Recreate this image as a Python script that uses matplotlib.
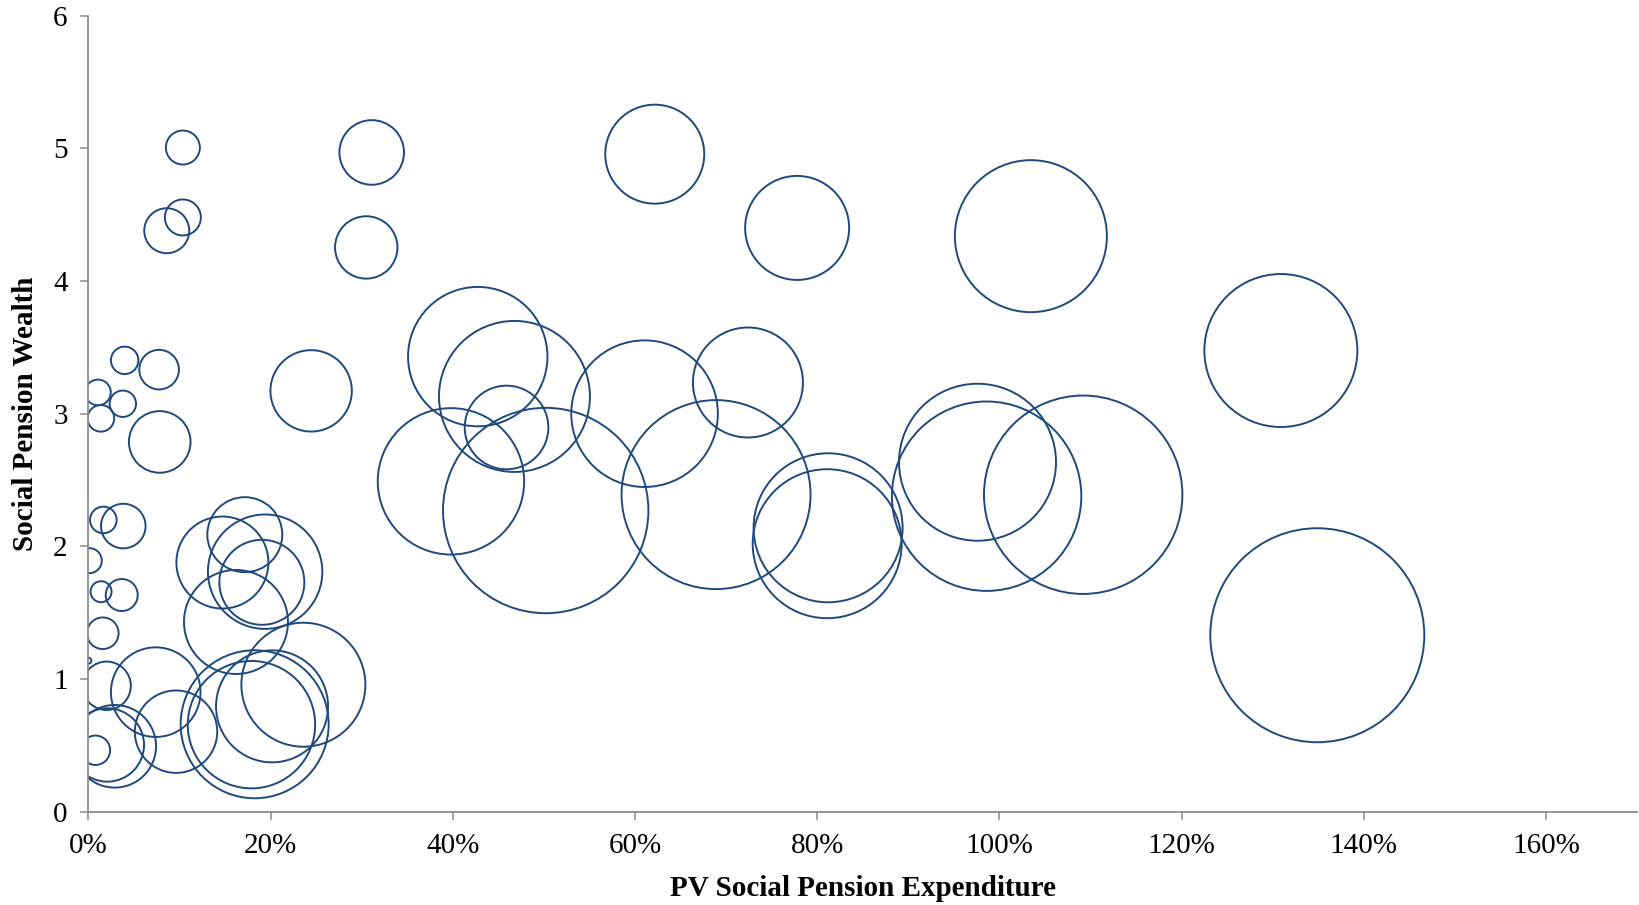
import matplotlib
matplotlib.use("Agg")
import matplotlib.pyplot as plt
from matplotlib.ticker import PercentFormatter, MultipleLocator

# PV social pension expenditure (share), social pension wealth, bubble size
expenditure = [0.1037, 0.1037, 0.0860, 0.311, 0.305, 0.6217, 0.778, 1.0346, 1.309, 1.349,
               0.0398, 0.0776, 0.0105, 0.0378, 0.0137, 0.0783, 0.2445, 0.4274, 0.4677, 0.459,
               0.398, 0.502, 0.6105, 0.724, 0.689, 0.812, 0.811, 0.976, 0.986, 1.092,
               0.0164, 0.0383, 0.001, 0.0139, 0.0366, 0.0158, 0.0, 0.020, 0.0739, 0.0077,
               0.0289, 0.0208, 0.0962, 0.1717, 0.1471, 0.194, 0.1904, 0.162, 0.1825, 0.179,
               0.2016, 0.236]
wealth = [5.006, 4.479, 4.379, 4.969, 4.253, 4.956, 4.40, 4.338, 3.476, 1.33,
          3.402, 3.332, 3.16, 3.075, 2.965, 2.787, 3.172, 3.43, 3.13, 2.896,
          2.49, 2.27, 3.0, 3.235, 2.39, 2.14, 2.02, 2.634, 2.378, 2.389,
          2.199, 2.153, 1.892, 1.658, 1.633, 1.345, 1.138, 0.949, 0.901, 0.463,
          0.493, 0.503, 0.603, 2.088, 1.878, 1.809, 1.729, 1.43, 0.659, 0.656,
          0.794, 0.957]
bubble = [2.89, 3.24, 5.06, 10.43, 9.73, 24.5, 27.04, 57.76, 58.52, 114.49,
          1.88, 3.92, 1.64, 1.74, 1.77, 9.49, 16.56, 48.58, 57.0, 17.47,
          53.58, 105.47, 53.73, 30.25, 89.3, 55.5, 55.5, 61.62, 89.68, 98.41,
          1.77, 4.97, 1.56, 1.10, 2.56, 2.50, 0.09, 5.86, 20.07, 2.16,
          17.06, 13.47, 16.97, 14.06, 21.16, 32.72, 18.06, 27.04, 54.76, 40.58,
          31.36, 38.44]

COLOR = "#1F497D"
AXIS_GREY = "#8C8C8C"

plt.rcParams["font.family"] = ["Liberation Serif", "DejaVu Serif"]

fig = plt.figure(figsize=(16.4, 9.05), dpi=100)
ax = fig.add_axes([0.0539, 0.1031, 0.9443, 0.8796])

# bubble area proportional to value
sizes = [b * 207.36 for b in bubble]
ax.scatter(expenditure, wealth, s=sizes, facecolors="none", edgecolors=COLOR,
           linewidths=1.4)

ax.set_xlim(0, 1.7)
ax.set_ylim(0, 6)
ax.xaxis.set_major_locator(MultipleLocator(0.2))
ax.xaxis.set_major_formatter(PercentFormatter(1.0, decimals=0))
ax.yaxis.set_major_locator(MultipleLocator(1))

for side in ["top", "right"]:
    ax.spines[side].set_visible(False)
for side in ["left", "bottom"]:
    ax.spines[side].set_color(AXIS_GREY)
    ax.spines[side].set_linewidth(1.3)

ax.tick_params(axis="both", direction="out", length=6, width=1.1, color=AXIS_GREY,
               labelsize=21, pad=9)

ax.set_xlabel("PV Social Pension Expenditure", fontsize=21, fontweight="bold", labelpad=12)
ax.set_ylabel("Social Pension Wealth", fontsize=21, fontweight="bold", labelpad=10)

fig.savefig("out.png", dpi=100)
